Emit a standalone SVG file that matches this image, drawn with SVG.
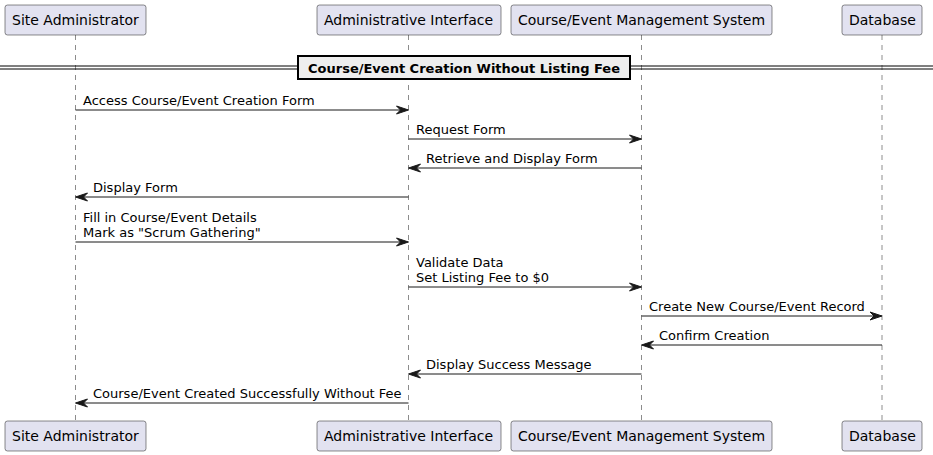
<svg xmlns="http://www.w3.org/2000/svg" width="933" height="455" viewBox="0 0 933 455">
<style>
.p{fill:#E2E2F0;stroke:#181818;stroke-width:0.5}
.pt{font-family:"DejaVu Sans",sans-serif;font-size:14px;fill:#000}
.life{stroke:#181818;stroke-width:0.5;stroke-dasharray:5,5}
.m{stroke:#181818;stroke-width:1}
.mt{font-family:"DejaVu Sans",sans-serif;font-size:13px;fill:#000}
.ah{fill:#181818;stroke:#181818;stroke-width:1}
</style>
<rect width="933" height="455" fill="#FFFFFF"/>
<g id="lifelines">
<line class="life" x1="75.5" y1="35" x2="75.5" y2="421"/>
<line class="life" x1="408.5" y1="35" x2="408.5" y2="421"/>
<line class="life" x1="641.5" y1="35" x2="641.5" y2="421"/>
<line class="life" x1="882" y1="35" x2="882" y2="421"/>
</g>
<g id="p-admin">
<rect class="p" x="5" y="5" width="141" height="30" rx="2.5"/>
<text class="pt" x="12" y="25">Site Administrator</text>
<rect class="p" x="5" y="421" width="141" height="30" rx="2.5"/>
<text class="pt" x="12" y="441">Site Administrator</text>
</g>
<g id="p-ui">
<rect class="p" x="317" y="5" width="184" height="30" rx="2.5"/>
<text class="pt" x="324" y="25">Administrative Interface</text>
<rect class="p" x="317" y="421" width="184" height="30" rx="2.5"/>
<text class="pt" x="324" y="441">Administrative Interface</text>
</g>
<g id="p-cems">
<rect class="p" x="511" y="5" width="261" height="30" rx="2.5"/>
<text class="pt" x="518" y="25">Course/Event Management System</text>
<rect class="p" x="511" y="421" width="261" height="30" rx="2.5"/>
<text class="pt" x="518" y="441">Course/Event Management System</text>
</g>
<g id="p-db">
<rect class="p" x="842" y="5" width="80" height="30" rx="2.5"/>
<text class="pt" x="849" y="25">Database</text>
<rect class="p" x="842" y="421" width="80" height="30" rx="2.5"/>
<text class="pt" x="849" y="441">Database</text>
</g>
<g id="divider">
<line x1="0" y1="66" x2="933" y2="66" stroke="#000" stroke-width="1"/>
<line x1="0" y1="69" x2="933" y2="69" stroke="#000" stroke-width="1"/>
<rect x="298" y="56" width="332" height="23" fill="#EEEEEE" stroke="#000" stroke-width="2"/>
<text x="464" y="73" text-anchor="middle" font-family="DejaVu Sans,sans-serif" font-size="13" font-weight="bold">Course/Event Creation Without Listing Fee</text>
</g>
<g id="connectors">
<line class="m" x1="75.5" y1="110" x2="406" y2="110"/>
<polygon class="ah" points="396.5,106 408.5,110 396.5,114 400.5,110"/>
<text class="mt" x="83" y="105">Access Course/Event Creation Form</text>

<line class="m" x1="408.5" y1="139" x2="639" y2="139"/>
<polygon class="ah" points="629.5,135 641.5,139 629.5,143 633.5,139"/>
<text class="mt" x="416" y="134">Request Form</text>

<line class="m" x1="411" y1="168" x2="641.5" y2="168"/>
<polygon class="ah" points="420.5,164 408.5,168 420.5,172 416.5,168"/>
<text class="mt" x="426" y="163">Retrieve and Display Form</text>

<line class="m" x1="78" y1="197" x2="408.5" y2="197"/>
<polygon class="ah" points="87.5,193 75.5,197 87.5,201 83.5,197"/>
<text class="mt" x="93" y="192">Display Form</text>

<line class="m" x1="75.5" y1="242" x2="406" y2="242"/>
<polygon class="ah" points="396.5,238 408.5,242 396.5,246 400.5,242"/>
<text class="mt" x="83" y="222">Fill in Course/Event Details</text>
<text class="mt" x="83" y="237">Mark as "Scrum Gathering"</text>

<line class="m" x1="408.5" y1="287" x2="639" y2="287"/>
<polygon class="ah" points="629.5,283 641.5,287 629.5,291 633.5,287"/>
<text class="mt" x="416" y="267">Validate Data</text>
<text class="mt" x="416" y="282">Set Listing Fee to $0</text>

<line class="m" x1="641.5" y1="316" x2="879.5" y2="316"/>
<polygon class="ah" points="870,312 882,316 870,320 874,316"/>
<text class="mt" x="649" y="311">Create New Course/Event Record</text>

<line class="m" x1="644" y1="345" x2="882" y2="345"/>
<polygon class="ah" points="653.5,341 641.5,345 653.5,349 649.5,345"/>
<text class="mt" x="659" y="340">Confirm Creation</text>

<line class="m" x1="411" y1="374" x2="641.5" y2="374"/>
<polygon class="ah" points="420.5,370 408.5,374 420.5,378 416.5,374"/>
<text class="mt" x="426" y="369">Display Success Message</text>

<line class="m" x1="78" y1="403" x2="408.5" y2="403"/>
<polygon class="ah" points="87.5,399 75.5,403 87.5,407 83.5,403"/>
<text class="mt" x="93" y="398">Course/Event Created Successfully Without Fee</text>
</g>
</svg>
